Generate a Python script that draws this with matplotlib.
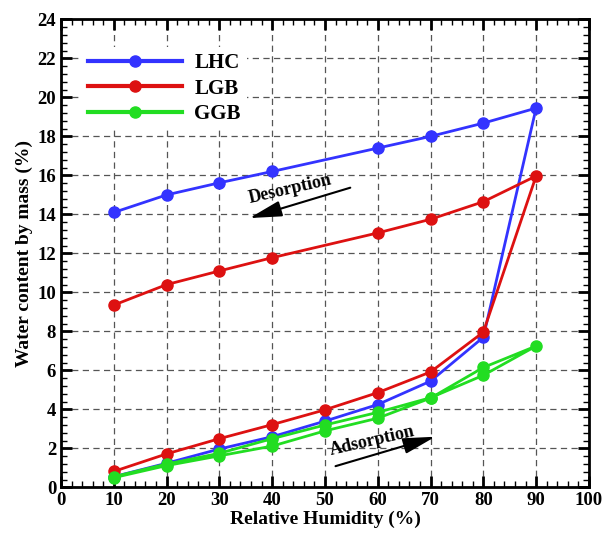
import matplotlib.pyplot as plt
from matplotlib.ticker import MultipleLocator

# relative humidity: adsorption 10->90, then desorption back down
rh_ads = [10, 20, 30, 40, 50, 60, 70, 80, 90]
rh_des_lhc = [80, 70, 60, 40, 30, 20, 10]
rh_des_ggb = [80, 70, 60, 50, 40, 30, 20, 10]

lhc_ads = [0.55, 1.24, 1.97, 2.6, 3.4, 4.25, 5.45, 7.7, 19.45]
lhc_des = [18.68, 18.0, 17.4, 16.2, 15.62, 15.0, 14.1]

lgb_ads = [0.82, 1.72, 2.5, 3.22, 3.98, 4.86, 5.92, 7.96, 15.97]
lgb_des = [14.65, 13.75, 13.05, 11.78, 11.1, 10.4, 9.35]

ggb_ads = [0.5, 1.12, 1.62, 2.12, 2.9, 3.55, 4.58, 6.15, 7.25]
ggb_des = [5.75, 4.6, 3.85, 3.2, 2.5, 1.75, 1.2, 0.55]

series = [
    ('LHC', rh_des_lhc, lhc_ads, lhc_des, '#3333ff'),
    ('LGB', rh_des_lhc, lgb_ads, lgb_des, '#dd1111'),
    ('GGB', rh_des_ggb, ggb_ads, ggb_des, '#22dd22'),
]

plt.rcParams['font.family'] = ['Liberation Serif', 'DejaVu Serif']
plt.rcParams['font.weight'] = 'bold'

fig = plt.figure(figsize=(6.04, 5.38), dpi=100)
ax = fig.add_axes([0.101, 0.094, 0.874, 0.870])

for name, rh_des, ads, des, color in series:
    xs = rh_ads + rh_des
    ys = ads + des
    ax.plot(xs, ys, '-o', color=color, lw=2.0, ms=8, label=name, zorder=3)

ax.set_xlim(0, 100)
ax.set_ylim(0, 24)
ax.xaxis.set_major_locator(MultipleLocator(10))
ax.xaxis.set_minor_locator(MultipleLocator(2))
ax.yaxis.set_major_locator(MultipleLocator(2))
ax.yaxis.set_minor_locator(MultipleLocator(0.4))
ax.tick_params(which='both', direction='in', top=True, right=True)
ax.tick_params(which='major', length=8, width=2, labelsize=13.5)
ax.tick_params(which='minor', length=4, width=1)
for lab in ax.get_xticklabels() + ax.get_yticklabels():
    lab.set_fontweight('bold')
for sp in ax.spines.values():
    sp.set_linewidth(2)

ax.grid(True, which='major', ls='--', color='#555555', lw=0.9, dashes=(5, 3.5))
ax.set_axisbelow(True)

ax.set_xlabel('Relative Humidity (%)', fontsize=14, fontweight='bold', labelpad=1)
ax.set_ylabel('Water content by mass (%)', fontsize=14, fontweight='bold', labelpad=3)

leg = ax.legend(loc='upper left', bbox_to_anchor=(0.02, 0.963), frameon=True,
                fontsize=15, handlelength=4.5, handletextpad=0.6,
                labelspacing=0.26, borderpad=0.3)
leg.get_frame().set_edgecolor('none')
leg.get_frame().set_alpha(1)
for line in leg.get_lines():
    line.set_linewidth(3)
for t in leg.get_texts():
    t.set_fontweight('bold')

# annotations
arrow = dict(arrowstyle='-|>,head_length=0.9,head_width=0.22', color='black',
             lw=1.5, mutation_scale=22)
ax.annotate('', xy=(35.2, 13.77), xytext=(55.3, 15.41), arrowprops=arrow)
ax.text(43.4, 15.3, 'Desorption', rotation=13, ha='center', va='center',
        fontsize=13, fontweight='bold')
ax.annotate('', xy=(71.4, 2.64), xytext=(51.5, 1.05), arrowprops=arrow)
ax.text(58.9, 2.4, 'Adsorption', rotation=13, ha='center', va='center',
        fontsize=13, fontweight='bold')

fig.savefig('out.png', dpi=100)
